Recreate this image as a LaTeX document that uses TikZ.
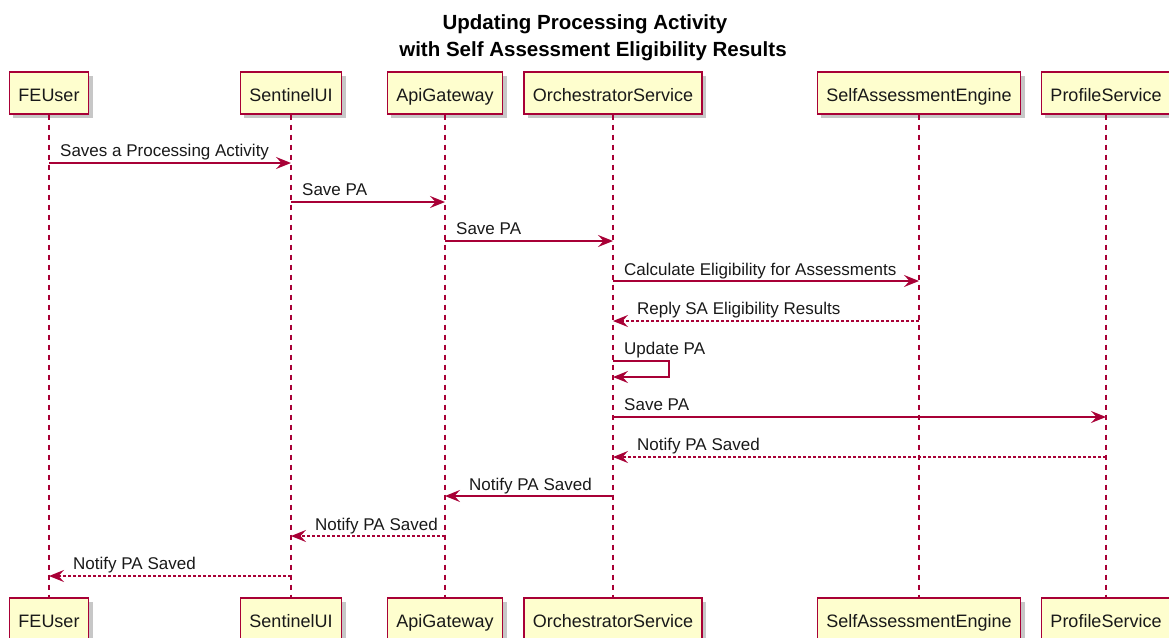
\documentclass[tikz,border=0pt]{standalone}
\usepackage{fontspec}
\setmainfont{Liberation Sans}
\usetikzlibrary{arrows.meta,shadows}
\definecolor{umlred}{HTML}{A80036}
\definecolor{umlfill}{HTML}{FEFECE}

\begin{document}
\begin{tikzpicture}[x=1pt,y=-1pt,
  actorbox/.style={draw=umlred, line width=1.3pt, fill=umlfill,
    minimum height=42pt, inner xsep=9pt, text height=16pt, text depth=0pt,
    font=\fontsize{18}{20}\selectfont, text=black!90,
    drop shadow={shadow xshift=4pt, shadow yshift=-4pt, fill=black, opacity=0.22}},
  lifeline/.style={draw=umlred, line width=1.2pt, dash pattern=on 5pt off 5pt},
  msg/.style={draw=umlred, line width=1.4pt, line join=miter,
    -{Stealth[length=15pt,width=12pt,inset=5.5pt]}},
  reply/.style={msg, dash pattern=on 3pt off 2pt},
  lbl/.style={font=\fontsize{17}{19}\selectfont, anchor=base west, inner sep=0pt, text=black!90},
  ttl/.style={font=\bfseries\fontsize{20.5}{24}\selectfont, anchor=base, inner sep=0pt},
]
\useasboundingbox (0,0) rectangle (1169,637);

% lifeline positions
\def\xFE{49}
\def\xUI{291}
\def\xGW{445}
\def\xOR{613}
\def\xSA{919}
\def\xPR{1106}

% title
\node[ttl] (title1) at (585,29) {Updating Processing Activity};
\node[ttl] (title2) at (593,56) {with Self Assessment Eligibility Results};

% participants, top
\node[actorbox] (fe)   at (\xFE,93) {FEUser};
\node[actorbox] (ui)   at (\xUI,93) {SentinelUI};
\node[actorbox] (gw)   at (\xGW,93) {ApiGateway};
\node[actorbox] (orch) at (\xOR,93) {OrchestratorService};
\node[actorbox] (sae)  at (\xSA,93) {SelfAssessmentEngine};
\node[actorbox] (prof) at (\xPR,93) {ProfileService};

% participants, bottom
\node[actorbox] (feB)   at (\xFE,619) {FEUser};
\node[actorbox] (uiB)   at (\xUI,619) {SentinelUI};
\node[actorbox] (gwB)   at (\xGW,619) {ApiGateway};
\node[actorbox] (orchB) at (\xOR,619) {OrchestratorService};
\node[actorbox] (saeB)  at (\xSA,619) {SelfAssessmentEngine};
\node[actorbox] (profB) at (\xPR,619) {ProfileService};

% lifelines
\draw[lifeline] (fe.south) -- (feB.north);
\draw[lifeline] (ui.south) -- (uiB.north);
\draw[lifeline] (gw.south) -- (gwB.north);
\draw[lifeline] (orch.south) -- (orchB.north);
\draw[lifeline] (sae.south) -- (saeB.north);
\draw[lifeline] (prof.south) -- (profB.north);

% message end points
\coordinate (s1) at (\xFE,163);   \coordinate (t1) at (\xUI,163);
\coordinate (s2) at (\xUI,202);   \coordinate (t2) at (\xGW,202);
\coordinate (s3) at (\xGW,241);   \coordinate (t3) at (\xOR,241);
\coordinate (s4) at (\xOR,281);   \coordinate (t4) at (\xSA,281);
\coordinate (s5) at (\xSA,321);   \coordinate (t5) at (\xOR,321);
\coordinate (s6) at (\xOR,361);   \coordinate (c6a) at (669,361);
\coordinate (c6b) at (669,377);   \coordinate (t6) at (\xOR,377);
\coordinate (s7) at (\xOR,417);   \coordinate (t7) at (\xPR,417);
\coordinate (s8) at (\xPR,457);   \coordinate (t8) at (\xOR,457);
\coordinate (s9) at (\xOR,496);   \coordinate (t9) at (\xGW,496);
\coordinate (s10) at (\xGW,536);  \coordinate (t10) at (\xUI,536);
\coordinate (s11) at (\xUI,576);  \coordinate (t11) at (\xFE,576);

% messages
\draw[msg] (s1) -- (t1);
\draw[msg] (s2) -- (t2);
\draw[msg] (s3) -- (t3);
\draw[msg] (s4) -- (t4);
\draw[reply] (s5) -- (t5);
\draw[msg] (s6) -- (c6a) -- (c6b) -- (t6);
\draw[msg] (s7) -- (t7);
\draw[reply] (s8) -- (t8);
\draw[msg] (s9) -- (t9);
\draw[reply] (s10) -- (t10);
\draw[reply] (s11) -- (t11);

% message labels
\node[lbl] (l1) at (60,156.5) {Saves a Processing Activity};
\node[lbl] (l2) at (302,195.5) {Save PA};
\node[lbl] (l3) at (456,234.5) {Save PA};
\node[lbl] (l4) at (624,275) {Calculate Eligibility for Assessments};
\node[lbl] (l5) at (637,314) {Reply SA Eligibility Results};
\node[lbl] (l6) at (624,354.5) {Update PA};
\node[lbl] (l7) at (624,410.5) {Save PA};
\node[lbl] (l8) at (637,450.5) {Notify PA Saved};
\node[lbl] (l9) at (469,490) {Notify PA Saved};
\node[lbl] (l10) at (315,530) {Notify PA Saved};
\node[lbl] (l11) at (73,569.5) {Notify PA Saved};
\end{tikzpicture}
\end{document}
